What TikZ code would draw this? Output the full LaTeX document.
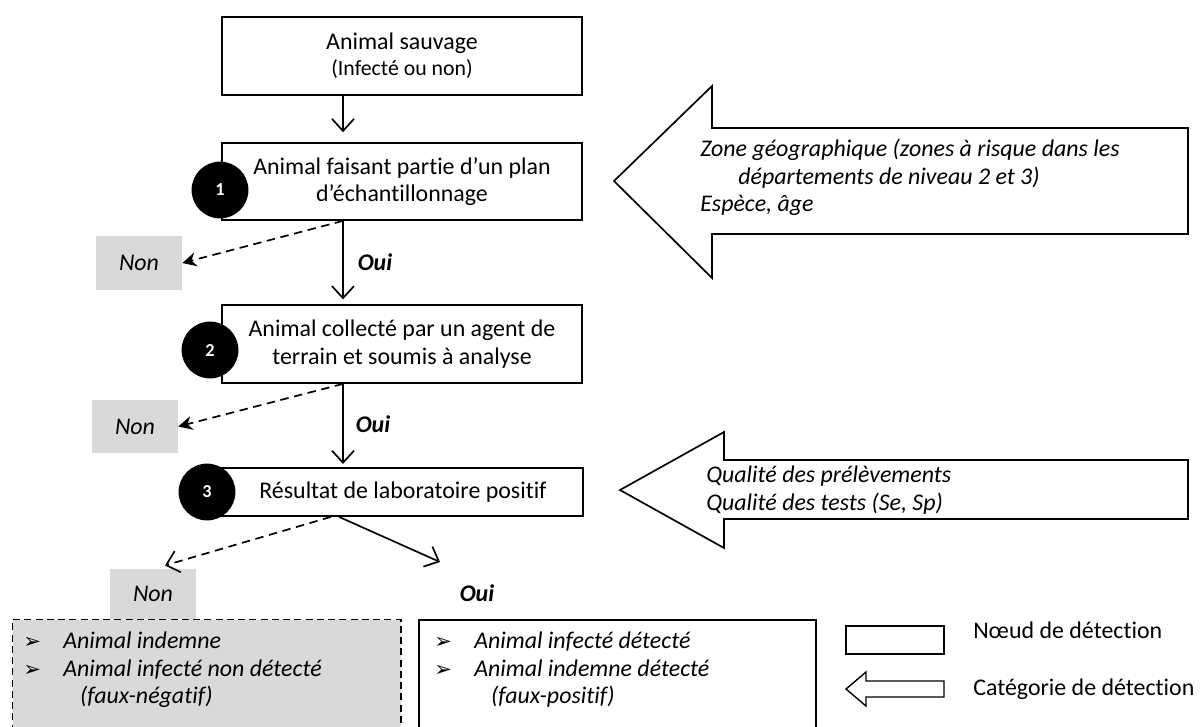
\documentclass[tikz,border=0pt]{standalone}
\usepackage{fontspec}
\setmainfont{Carlito}[Ligatures=CommonOff]
\newfontfamily\dejavu{DejaVu Sans}
\usetikzlibrary{arrows.meta,positioning,calc}
\definecolor{nongray}{RGB}{217,217,217}

\newcommand{\puce}[1]{\makebox[1.0cm][l]{\dejavu\fontsize{15}{15}\selectfont ➢}#1}

\tikzset{
  detbox/.style={draw,line width=1.2pt,align=center,inner sep=0pt,
    font=\fontsize{17}{19.5}\selectfont},
  numdot/.style={circle,fill=black,text=white,inner sep=0pt,minimum size=1.42cm,
    font=\bfseries\fontsize{13}{15}\selectfont},
  nonbox/.style={fill=nongray,minimum width=2.15cm,minimum height=1.33cm,
    font=\itshape\fontsize{17}{19.5}\selectfont},
  ouilabel/.style={font=\bfseries\itshape\fontsize{17}{19.5}\selectfont},
  catarrow/.style={draw,line width=1.2pt,fill=white,line join=miter},
  cattext/.style={align=left,anchor=north west,inner sep=0pt,
    font=\itshape\fontsize{17}{19.5}\selectfont},
  flow/.style={line width=1.2pt,-{Straight Barb[length=3mm,width=5.5mm]}},
  noflow/.style={line width=1.2pt,dash pattern=on 6pt off 4pt,
    -{Stealth[length=3.5mm,width=3.5mm]}},
  legtext/.style={anchor=west,inner sep=0pt,font=\fontsize{17}{19.5}\selectfont}
}

\begin{document}
\begin{tikzpicture}[x=0.025cm,y=-0.025cm]
\useasboundingbox (0,0) rectangle (1200,726);
\clip (0,0) rectangle (1200,726);

% noeuds de detection
\node[detbox,minimum width=9cm,minimum height=1.95cm] (sauvage) at (402,56)
  {Animal sauvage\\[-1pt]{\fontsize{15.5}{17}\selectfont(Infecté ou non)}};
\node[detbox,minimum width=9cm,minimum height=1.925cm] (plan) at (402,181.5)
  {Animal faisant partie d’un plan\\d’échantillonnage};
\node[detbox,minimum width=9cm,minimum height=1.95cm] (agent) at (402,344)
  {Animal collecté par un agent de\\terrain et soumis à analyse};
\node[detbox,minimum width=9.2cm,minimum height=1.2cm] (labo) at (399,492)
  {\hspace*{0.2cm}Résultat de laboratoire positif};

\node[numdot] (un) at (220,190) {1};
\node[numdot] (deux) at (210,350) {2};
\node[numdot] (trois) at (207,492) {3};

% sorties Non
\node[nonbox] (nona) at (139,263) {Non};
\node[nonbox] (nonb) at (135,426.5) {Non};

% resultats
\node[draw,dash pattern=on 5pt off 3pt,line width=1pt,fill=nongray,
  minimum width=9.7cm,minimum height=3cm,anchor=north west] (negatif) at (12,619) {};
\node[draw,line width=1.2pt,minimum width=9.925cm,minimum height=3cm,
  anchor=north west] (positif) at (418,619) {};
\node[nonbox,minimum height=1.25cm,anchor=south] (nonc) at (153,619) {Non};

\node[cattext] (liste neg) at (23,632)
  {\puce{Animal indemne}\\\puce{Animal infecté non détecté}\\\hspace*{1.42cm}(faux-négatif)};
\node[cattext] (liste pos) at (434,632)
  {\puce{Animal infecté détecté}\\\puce{Animal indemne détecté}\\\hspace*{1.42cm}(faux-positif)};

% connecteurs
\coordinate (spine) at (343,0);
\coordinate (ouiend) at (440,562);
\draw[flow,shorten >=0.25cm] (spine |- sauvage.south) -- (spine |- plan.north);
\draw[flow,shorten >=0.12cm] (spine |- plan.south) -- (spine |- agent.north);
\draw[flow,shorten >=0.08cm] (spine |- agent.south) -- (spine |- labo.north);
\draw[noflow] (spine |- plan.south) -- (nona.east);
\draw[noflow] (spine |- agent.south) -- (nonb.east);
\draw[line width=1.2pt,dash pattern=on 6pt off 4pt,
  -{Straight Barb[length=3mm,width=5.5mm]}]
  ($(spine |- labo.south)+(-12,0)$) -- ($(nonc.north)+(12,-3)$);
\draw[flow] ($(spine |- labo.south)+(-4,0)$) -- (ouiend);

\node[ouilabel] (ouia) at (375,262) {Oui};
\node[ouilabel] (ouib) at (373,424) {Oui};
\node[ouilabel] (ouic) at (477,593) {Oui};

% categories de detection
\draw[catarrow] (614,181) -- (712,86) -- (712,128) -- (1188,128)
  -- (1188,234) -- (712,234) -- (712,278) -- cycle;
\node[cattext] (zone) at (700,139)
  {Zone géographique (zones à risque dans les\\\hspace*{0.95cm}départements de niveau 2 et 3)\\Espèce, âge};

\draw[catarrow] (620,490) -- (724,432) -- (724,460) -- (1188,460)
  -- (1188,519) -- (724,519) -- (724,548) -- cycle;
\node[cattext] (qualite) at (706,466)
  {Qualité des prélèvements\\Qualité des tests (Se, Sp)};

% legende
\node[draw,line width=1.2pt,minimum width=2.45cm,minimum height=0.7cm,inner sep=0pt]
  (legnoeud) at (895,640) {};
\node[legtext] (legnoeudtxt) at (973,630) {Nœud de détection};
\draw[catarrow,line width=1pt] (846,689) -- (866,672) -- (866,681) -- (944,681)
  -- (944,697) -- (866,697) -- (866,706) -- cycle;
\node[legtext] (legcattxt) at (973,689) {Catégorie de détection};
\end{tikzpicture}
\end{document}
